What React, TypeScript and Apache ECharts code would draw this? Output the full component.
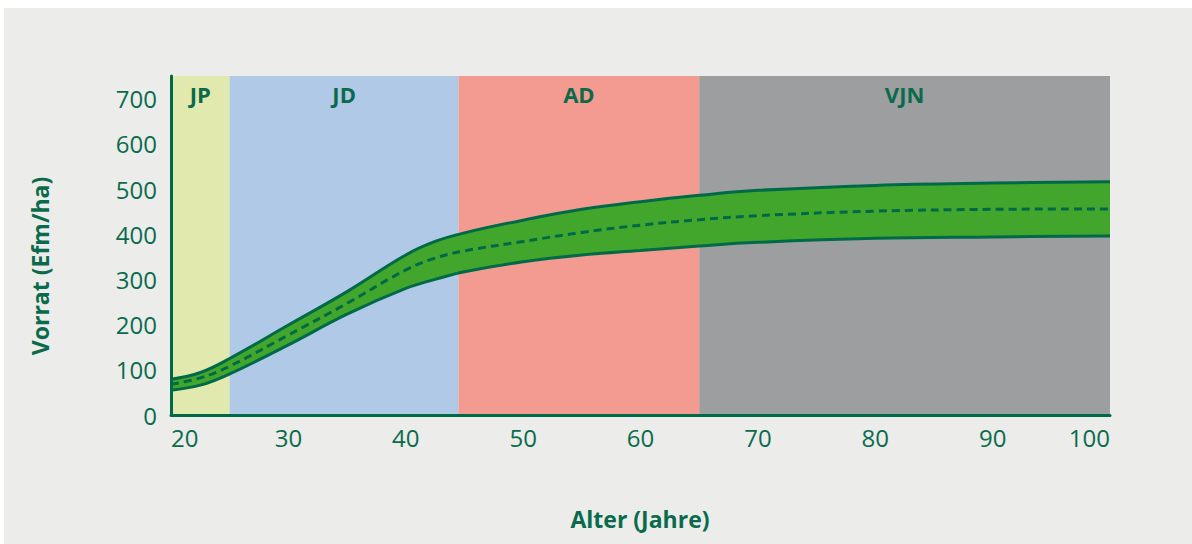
import React, { useEffect, useRef } from "react";
import * as echarts from "echarts";

const ages = [20, 22.5, 25, 30, 35, 40, 42.5, 45, 50, 55, 60, 65, 70, 80, 90, 100];
const upper = [79, 94, 125, 199, 273, 354, 384, 403, 431, 455, 472, 486, 497, 508, 513, 516];
const lower = [55, 66, 91, 155, 223, 280, 300, 317, 339, 354, 364, 374, 382, 391, 394, 396];
const middle = [68, 82, 108, 177, 247, 321, 347, 363, 384, 404, 420, 432, 441, 451, 455, 456];

const zoneNames = ["JP", "JD", "AD", "VJN"];
const zoneStarts = [20, 25, 44.5, 65];
const zoneEnds = [25, 44.5, 65, 100];
const zoneColors = ["#e1e9ae", "#b0c9e6", "#f39b90", "#9d9ea0"];

const xTitle = "Alter (Jahre)";
const yTitle = "Vorrat (Efm/ha)";

const DARK = "#0a6b4c";
const BAND = "#43a62c";
const LINE = "#006a48";
const FONT = "'Open Sans', 'Noto Sans', sans-serif";

export default function App() {
  const ref = useRef<HTMLDivElement>(null);
  useEffect(() => {
    if (!ref.current) return;
    const chart = echarts.init(ref.current, undefined, { renderer: "svg" });
    // value first, age second, so that stacking acts on the value dimension
    const pairVA = (arr: number[]) => ages.map((a, i) => [arr[i], a]);
    const widthVA = ages.map((a, i) => [upper[i] - lower[i], a]);
    const enc = { x: 1, y: 0 };
    chart.setOption({
      animation: false,
      backgroundColor: "#ecedeb",
      grid: { left: 167, top: 68, right: 82, bottom: 129 },
      xAxis: {
        type: "value",
        min: 20,
        max: 100,
        interval: 10,
        z: 10,
        axisLine: { show: true, lineStyle: { color: LINE, width: 3 } },
        axisTick: { show: false },
        splitLine: { show: false },
        axisLabel: {
          color: DARK,
          fontSize: 24,
          fontFamily: FONT,
          margin: 10,
          alignMinLabel: "left",
          alignMaxLabel: "right",
        },
      },
      yAxis: {
        type: "value",
        min: 0,
        max: 750,
        interval: 100,
        z: 10,
        axisLine: { show: true, lineStyle: { color: LINE, width: 3 } },
        axisTick: { show: false },
        splitLine: { show: false },
        axisLabel: {
          color: DARK,
          fontSize: 24,
          fontFamily: FONT,
          margin: 14,
          showMaxLabel: false,
          formatter: (v: number) => (v > 700 ? "" : String(v)),
        },
      },
      graphic: [
        {
          type: "text",
          x: 636,
          y: 511,
          style: {
            text: xTitle,
            fill: DARK,
            fontSize: 23,
            fontWeight: "bold",
            fontFamily: FONT,
            textAlign: "center",
            textVerticalAlign: "middle",
          },
        },
        {
          type: "text",
          x: 36,
          y: 258,
          rotation: Math.PI / 2,
          style: {
            text: yTitle,
            fill: DARK,
            fontSize: 23,
            fontWeight: "bold",
            fontFamily: FONT,
            textAlign: "center",
            textVerticalAlign: "middle",
          },
        },
      ],
      series: [
        {
          name: "lowerStack",
          type: "line",
          stack: "band",
          smooth: 0.4,
          symbol: "none",
          encode: enc,
          data: pairVA(lower),
          lineStyle: { opacity: 0 },
          z: 1,
          markArea: {
            silent: true,
            label: {
              position: "insideTop",
              distance: 7,
              color: DARK,
              fontSize: 22,
              fontWeight: "bold",
              fontFamily: FONT,
            },
            data: zoneNames.map((n, i) => [
              { name: n, xAxis: zoneStarts[i], yAxis: 0, itemStyle: { color: zoneColors[i], opacity: 1 } },
              { xAxis: zoneEnds[i], yAxis: 750 },
            ]),
          },
        },
        {
          name: "band",
          type: "line",
          stack: "band",
          smooth: 0.4,
          symbol: "none",
          encode: enc,
          data: widthVA,
          lineStyle: { opacity: 0 },
          areaStyle: { color: BAND, opacity: 1 },
          z: 2,
        },
        {
          name: "upper",
          type: "line",
          smooth: 0.4,
          symbol: "none",
          encode: enc,
          data: pairVA(upper),
          lineStyle: { color: LINE, width: 3 },
          z: 3,
        },
        {
          name: "lower",
          type: "line",
          smooth: 0.4,
          symbol: "none",
          encode: enc,
          data: pairVA(lower),
          lineStyle: { color: LINE, width: 3 },
          z: 3,
        },
        {
          name: "middle",
          type: "line",
          smooth: 0.4,
          symbol: "none",
          encode: enc,
          data: pairVA(middle),
          lineStyle: { color: LINE, width: 3, type: [8, 5] },
          z: 3,
        },
      ],
    });
    return () => chart.dispose();
  }, []);
  return (
    <div style={{ position: "absolute", left: 0, top: 0, width: 1192, height: 544, background: "#ffffff" }}>
      <div ref={ref} style={{ position: "absolute", left: 4, top: 8, width: 1188, height: 536 }} />
    </div>
  );
}
